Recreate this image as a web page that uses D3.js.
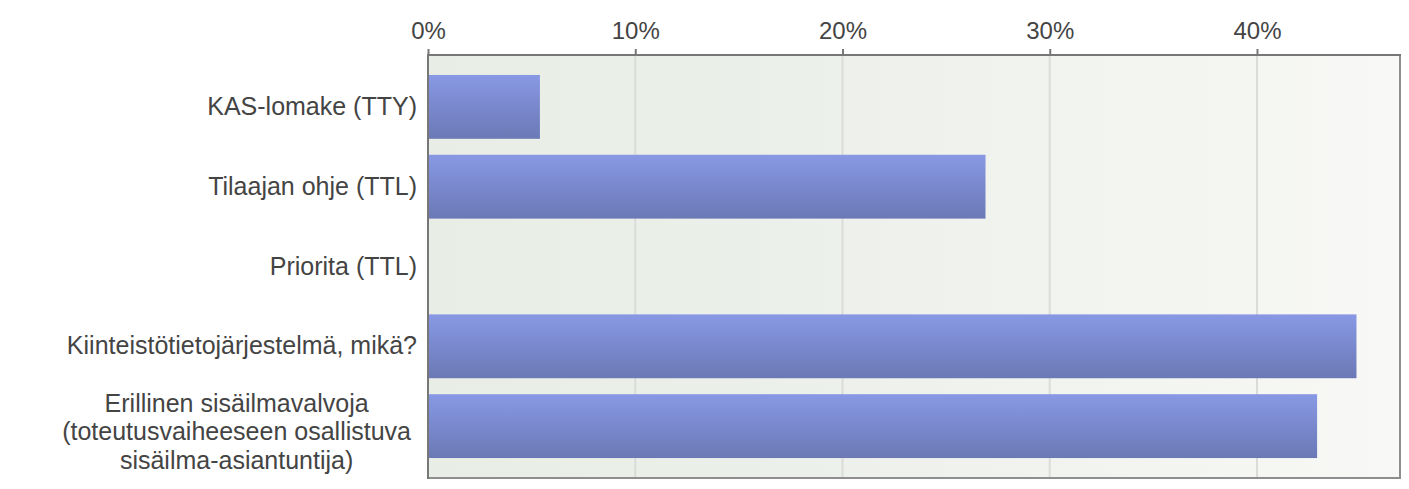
<!DOCTYPE html>
<html>
<head>
<meta charset="utf-8">
<script src="https://cdn.jsdelivr.net/npm/d3@7"></script>
<style>
  html, body { margin: 0; padding: 0; background: #ffffff; }
  svg { display: block; font-family: "Liberation Sans", Arial, sans-serif; }
</style>
</head>
<body>
<svg id="chart" width="1409" height="489"></svg>
<script>
// ---- data ----
const categories = [
  "KAS-lomake (TTY)",
  "Tilaajan ohje (TTL)",
  "Priorita (TTL)",
  "Kiinteistötietojärjestelmä, mikä?",
  "Erillinen sisäilmavalvoja (toteutusvaiheeseen osallistuva sisäilma-asiantuntija)"
];
const labelLines = [
  ["KAS-lomake (TTY)"],
  ["Tilaajan ohje (TTL)"],
  ["Priorita (TTL)"],
  ["Kiinteistötietojärjestelmä, mikä?"],
  ["Erillinen sisäilmavalvoja", "(toteutusvaiheeseen osallistuva", "sisäilma-asiantuntija)"]
];
const values = [5.4, 26.9, 0, 44.8, 42.9];
const tickValues = [0, 10, 20, 30, 40];
const xMax = 46.9;

// ---- layout ----
const plot = { left: 428, right: 1400, top: 55, bottom: 478 };
const svg = d3.select("#chart");

const x = d3.scaleLinear().domain([0, xMax]).range([plot.left, plot.right]);
const y = d3.scaleBand().domain(categories).range([plot.top, plot.bottom])
  .paddingInner(0.2).paddingOuter(0.25);

const defs = svg.append("defs");
const bg = defs.append("linearGradient").attr("id", "bgGrad")
  .attr("x1", "0").attr("x2", "1").attr("y1", "0").attr("y2", "0");
bg.append("stop").attr("offset", "0%").attr("stop-color", "#e8ede5");
bg.append("stop").attr("offset", "50%").attr("stop-color", "#eef1ec");
bg.append("stop").attr("offset", "100%").attr("stop-color", "#f8f9f6");

const barGrad = defs.append("linearGradient").attr("id", "barGrad")
  .attr("x1", "0").attr("x2", "0").attr("y1", "0").attr("y2", "1");
barGrad.append("stop").attr("offset", "0%").attr("stop-color", "#8898e4");
barGrad.append("stop").attr("offset", "100%").attr("stop-color", "#6b79b6");

// background
svg.append("rect")
  .attr("x", plot.left).attr("y", plot.top)
  .attr("width", plot.right - plot.left).attr("height", plot.bottom - plot.top)
  .attr("fill", "url(#bgGrad)");

// gridlines
svg.append("g").selectAll("line")
  .data(tickValues.filter(d => d > 0))
  .join("line")
  .attr("x1", d => x(d)).attr("x2", d => x(d))
  .attr("y1", plot.top).attr("y2", plot.bottom)
  .attr("stroke", "#d9dcd8").attr("stroke-width", 2);

// bars
svg.append("g").selectAll("rect")
  .data(values.map((v, i) => ({ c: categories[i], v })))
  .join("rect")
  .attr("x", x(0))
  .attr("y", d => y(d.c))
  .attr("width", d => x(d.v) - x(0))
  .attr("height", y.bandwidth())
  .attr("fill", "url(#barGrad)");

// frame: right and bottom
svg.append("line").attr("x1", plot.right).attr("x2", plot.right)
  .attr("y1", plot.top).attr("y2", plot.bottom)
  .attr("stroke", "#8e8e8e").attr("stroke-width", 2);
svg.append("line").attr("x1", plot.left).attr("x2", plot.right + 1)
  .attr("y1", plot.bottom).attr("y2", plot.bottom)
  .attr("stroke", "#8e8e8e").attr("stroke-width", 2);

// top axis
const xAxis = svg.append("g")
  .attr("transform", `translate(0,${plot.top})`)
  .call(d3.axisTop(x).tickValues(tickValues).tickFormat(d => d + "%")
    .tickSize(6).tickSizeOuter(0).tickPadding(10));
xAxis.select(".domain").attr("stroke", "#777").attr("stroke-width", 2)
  .attr("d", `M${plot.left},0H${plot.right + 1}`);
xAxis.selectAll(".tick line").attr("stroke", "#777").attr("stroke-width", 2);
xAxis.selectAll(".tick text")
  .attr("fill", "#444").attr("font-size", 24)
  .attr("font-family", "Liberation Sans, Arial, sans-serif");

// left axis
const yAxis = svg.append("g")
  .attr("transform", `translate(${plot.left},0)`)
  .call(d3.axisLeft(y).tickSize(0).tickPadding(11));
yAxis.select(".domain").attr("stroke", "#777").attr("stroke-width", 2)
  .attr("d", `M0,${plot.top - 1}V${plot.bottom + 1}`);
yAxis.selectAll(".tick text")
  .attr("fill", "#444").attr("font-size", 25)
  .attr("font-family", "Liberation Sans, Arial, sans-serif")
  .each(function(d, i) {
    const lines = labelLines[i];
    if (lines.length > 1) {
      const t = d3.select(this);
      t.text(null).attr("text-anchor", "middle").attr("dy", null);
      const lh = 28.5;
      const shift = 6;
      const spans = lines.map((ln, k) => t.append("tspan")
        .attr("dy", k === 0 ? (0.32 * 25 + shift - lh * (lines.length - 1) / 2) + "px" : lh + "px")
        .text(ln));
      let maxW = 0;
      spans.forEach(s => { maxW = Math.max(maxW, s.node().getComputedTextLength()); });
      const cx = -(17 + maxW / 2);
      spans.forEach(s => s.attr("x", cx));
    }
  });
</script>
</body>
</html>
